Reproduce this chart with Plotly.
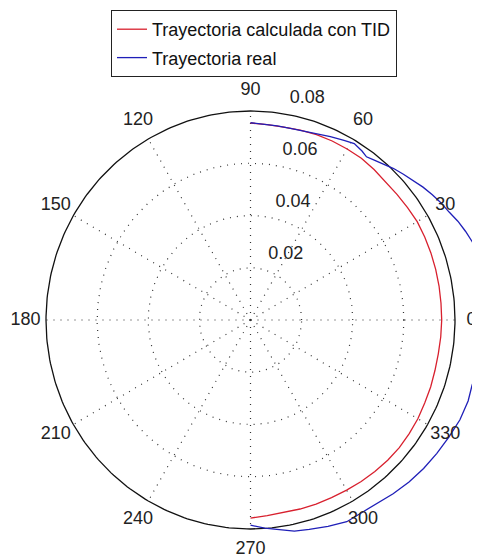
import numpy as np
import plotly.graph_objects as go

# ---- data, angles in degrees, radius in data units ----
theta_red = [90, 85, 80, 75, 70, 65, 60, 55, 50, 45, 40, 35, 30, 25, 20, 15, 10, 5, 0,
             -5, -10, -15, -20, -25, -30, -35, -40, -45, -50, -55, -60, -65, -70, -75, -80, -85, -90]
r_red = [0.0754, 0.0751, 0.0750, 0.0752, 0.0755, 0.0756, 0.0756, 0.0756, 0.0752, 0.0748,
         0.0748, 0.0750, 0.0753, 0.0752, 0.0751, 0.0750, 0.0749, 0.0748, 0.0748, 0.0747,
         0.0746, 0.0747, 0.0750, 0.0752, 0.0756, 0.0758, 0.0760, 0.0759, 0.0757, 0.0755,
         0.0752, 0.0750, 0.0750, 0.0749, 0.0749, 0.0752, 0.0758]

theta_blue = [90, 86, 82, 78, 74, 70, 66, 62, 59, 56, 54, 52, 49, 46, 43, 40, 37, 34, 31, 28,
              25, 22, 19, 16, 13, 10, 5, 0, -5, -10, -13, -16, -20, -25, -30, -35, -40, -45,
              -50, -55, -59, -64, -69, -74, -78, -82, -86, -90]
r_blue = [0.0755, 0.0752, 0.0750, 0.0750, 0.0753, 0.0759, 0.0768, 0.0779, 0.0788, 0.0780,
          0.0772, 0.0779, 0.0792, 0.0806, 0.0818, 0.0831, 0.0845, 0.0858, 0.0870, 0.0880,
          0.0895, 0.0907, 0.0918, 0.0925, 0.0928, 0.0931, 0.0933, 0.0933, 0.0929, 0.0918,
          0.0908, 0.0902, 0.0906, 0.0904, 0.0896, 0.0890, 0.0884, 0.0877, 0.0868, 0.0860,
          0.0856, 0.0859, 0.0846, 0.0834, 0.0826, 0.0810, 0.0799, 0.0785]

series_names = ["Trayectoria calculada con TID", "Trayectoria real"]

r_max = 0.08
ring_values = [0.02, 0.04, 0.06, 0.08]
ring_labels = ["0.02", "0.04", "0.06", "0.08"]
spoke_angles = [0, 30, 60, 90, 120, 150, 180, 210, 240, 270, 300, 330]
angle_labels = ["0", "30", "60", "90", "120", "150", "180", "210", "240", "270", "300", "330"]


def to_xy(r, theta_deg):
    t = np.radians(np.asarray(theta_deg, dtype=float))
    r = np.asarray(r, dtype=float)
    return r * np.cos(t), r * np.sin(t)


# ---- styles ----
FONT = "Liberation Sans"
RED = "#d8202e"
BLUE = "#1f1fb8"
GRID = "#333333"
DOT = "1px,6px"
circle_theta = np.arange(0, 361, 1)

fig = go.Figure()

# dotted rings (inner)
for rv in ring_values[:-1]:
    x, y = to_xy(np.full(circle_theta.shape, rv), circle_theta)
    fig.add_trace(go.Scatter(x=x, y=y, mode="lines", line=dict(color=GRID, width=1.2, dash=DOT),
                             showlegend=False, hoverinfo="skip"))
# dotted spokes
for a in spoke_angles:
    x, y = to_xy([0, r_max], [a, a])
    fig.add_trace(go.Scatter(x=x, y=y, mode="lines", line=dict(color=GRID, width=1.2, dash=DOT),
                             showlegend=False, hoverinfo="skip"))
# outer solid circle
x, y = to_xy(np.full(circle_theta.shape, r_max), circle_theta)
fig.add_trace(go.Scatter(x=x, y=y, mode="lines", line=dict(color="#111111", width=1.3),
                         showlegend=False, hoverinfo="skip"))

# data series
x, y = to_xy(r_red, theta_red)
fig.add_trace(go.Scatter(x=x, y=y, mode="lines", name=series_names[0],
                         line=dict(color=RED, width=1.3), legendgroup="a"))
x, y = to_xy(r_blue, theta_blue)
fig.add_trace(go.Scatter(x=x, y=y, mode="lines", name=series_names[1],
                         line=dict(color=BLUE, width=1.3), legendgroup="b"))

# angular labels
label_r = [0.0865] + [0.088] * 11
x, y = to_xy(label_r, spoke_angles)
fig.add_trace(go.Scatter(x=x, y=y, mode="text", text=angle_labels, textposition="middle center",
                         textfont=dict(family=FONT, size=18, color="#222222"),
                         cliponaxis=False, showlegend=False, hoverinfo="skip"))
# radial labels (MATLAB style: two leading spaces, just outside the ring at 82 deg)
x, y = to_xy([v + 0.002 for v in ring_values], [82] * 4)
fig.add_trace(go.Scatter(x=x, y=y, mode="text", text=["\u00a0\u00a0" + s for s in ring_labels],
                         textposition="top right",
                         textfont=dict(family=FONT, size=18, color="#222222"),
                         cliponaxis=False, showlegend=False, hoverinfo="skip"))

# pixel mapping: page body has an 8 px margin, so the figure origin sits at (8, 8)
W, H = 480, 558
PAGE = 8
cx, cy = 250.5 - PAGE, 320.0 - PAGE
kx, ky = 204.5 / r_max, 209.0 / r_max
fig.update_layout(
    width=W, height=H,
    margin=dict(l=0, r=0, t=0, b=0),
    paper_bgcolor="white", plot_bgcolor="white",
    xaxis=dict(range=[-cx / kx, (W - cx) / kx], visible=False, showgrid=False, zeroline=False),
    yaxis=dict(range=[-(H - cy) / ky, cy / ky], visible=False, showgrid=False, zeroline=False),
    legend=dict(x=103 / W, y=1 - 2 / H, xanchor="left", yanchor="top",
                bgcolor="white", bordercolor="#222222", borderwidth=1,
                font=dict(family=FONT, size=18, color="#111111"),
                tracegroupgap=2, itemwidth=30),
    showlegend=True,
)

fig.write_html("out.html")
